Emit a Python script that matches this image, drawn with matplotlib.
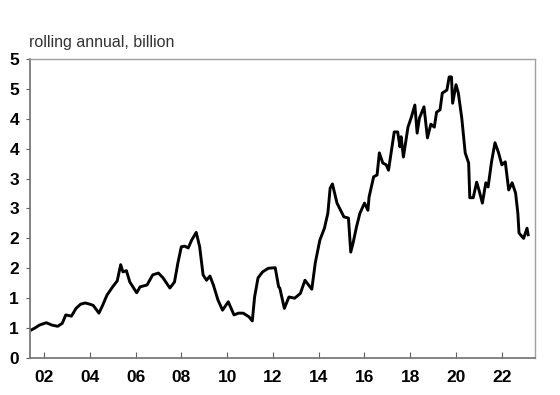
import matplotlib.pyplot as plt

# decimal years and values
years = [2001.45, 2001.6, 2001.8, 2002.1, 2002.35, 2002.6, 2002.8, 2002.95, 2003.2, 2003.4,
         2003.6, 2003.8, 2004.0, 2004.15, 2004.4, 2004.55, 2004.75, 2005.0, 2005.2, 2005.35,
         2005.45, 2005.6, 2005.75, 2006.05, 2006.2, 2006.5, 2006.75, 2007.0, 2007.2, 2007.5,
         2007.7, 2007.85, 2008.0, 2008.15, 2008.3, 2008.45, 2008.65, 2008.8, 2008.95, 2009.1,
         2009.25, 2009.4, 2009.6, 2009.8, 2010.05, 2010.3, 2010.5, 2010.7, 2010.95, 2011.1,
         2011.2, 2011.35, 2011.55, 2011.8, 2012.1, 2012.25, 2012.3, 2012.5, 2012.7, 2012.95,
         2013.2, 2013.4, 2013.7, 2013.85, 2014.05, 2014.25, 2014.4, 2014.5, 2014.6, 2014.8,
         2015.1, 2015.3, 2015.4, 2015.5, 2015.65, 2015.8, 2016.0, 2016.15, 2016.2, 2016.4,
         2016.55, 2016.65, 2016.8, 2016.95, 2017.05, 2017.3, 2017.45, 2017.55, 2017.6, 2017.7,
         2017.9, 2018.05, 2018.2, 2018.3, 2018.4, 2018.6, 2018.75, 2018.9, 2019.05, 2019.15,
         2019.3, 2019.4, 2019.6, 2019.7, 2019.8, 2019.85, 2020.0, 2020.1, 2020.25, 2020.4,
         2020.55, 2020.6, 2020.75, 2020.9, 2021.0, 2021.15, 2021.3, 2021.4, 2021.55, 2021.7,
         2021.85, 2022.0, 2022.15, 2022.3, 2022.45, 2022.6, 2022.7, 2022.75, 2022.95, 2023.1,
         2023.15]
values = [0.47, 0.5, 0.55, 0.59, 0.55, 0.53, 0.58, 0.72, 0.70, 0.83,
          0.90, 0.92, 0.90, 0.88, 0.75, 0.87, 1.05, 1.19, 1.29, 1.56,
          1.44, 1.46, 1.27, 1.09, 1.19, 1.22, 1.39, 1.42, 1.34, 1.17,
          1.27, 1.59, 1.86, 1.87, 1.84, 1.97, 2.10, 1.86, 1.39, 1.30,
          1.37, 1.22, 0.97, 0.80, 0.94, 0.72, 0.75, 0.75, 0.69, 0.62,
          1.02, 1.34, 1.44, 1.50, 1.51, 1.19, 1.17, 0.83, 1.02, 1.00,
          1.08, 1.30, 1.15, 1.59, 1.97, 2.17, 2.42, 2.84, 2.91, 2.59,
          2.36, 2.34, 1.77, 1.92, 2.19, 2.42, 2.59, 2.47, 2.69, 3.03,
          3.06, 3.43, 3.26, 3.23, 3.14, 3.78, 3.78, 3.53, 3.70, 3.36,
          3.86, 4.03, 4.23, 3.76, 4.01, 4.20, 3.68, 3.91, 3.86, 4.11,
          4.15, 4.43, 4.48, 4.70, 4.70, 4.26, 4.57, 4.43, 4.01, 3.43,
          3.26, 2.68, 2.68, 2.94, 2.81, 2.59, 2.93, 2.86, 3.28, 3.60,
          3.44, 3.23, 3.28, 2.81, 2.93, 2.76, 2.42, 2.09, 2.00, 2.17,
          2.06]

xticks = [2002, 2004, 2006, 2008, 2010, 2012, 2014, 2016, 2018, 2020, 2022]
xlabels = ['02', '04', '06', '08', '10', '12', '14', '16', '18', '20', '22']
yticks = [0, 0.5, 1, 1.5, 2, 2.5, 3, 3.5, 4, 4.5, 5]
ylabels = ['0', '1', '1', '2', '2', '3', '3', '4', '4', '5', '5']

plt.rcParams['font.family'] = ['Liberation Sans', 'DejaVu Sans']

fig = plt.figure(figsize=(5.6, 3.95), dpi=100)
ax = fig.add_axes([0.0536, 0.0937, 0.9014, 0.757])

ax.plot(years, values, color='black', lw=2.1)

ax.set_xlim(2001.39, 2023.44)
ax.set_ylim(0, 5)

ax.set_xticks(xticks)
ax.set_xticklabels(xlabels, fontsize=12.5, fontweight='bold')
ax.set_yticks(yticks)
ax.set_yticklabels(ylabels, fontsize=12.5, fontweight='bold')

ax.tick_params(axis='x', direction='in', length=4, pad=8.5, color='#606060')
ax.tick_params(axis='y', direction='out', length=3, pad=5, color='#606060')

for s in ['left', 'bottom']:
    ax.spines[s].set_color('#707070')
    ax.spines[s].set_linewidth(1.2)
for s in ['top', 'right']:
    ax.spines[s].set_color('#a0a0a0')
    ax.spines[s].set_linewidth(1.0)

fig.text(0.052, 0.880, 'rolling annual, billion', fontsize=11.5, color='#333333',
         ha='left', va='baseline')

fig.savefig('out.png', dpi=100)
